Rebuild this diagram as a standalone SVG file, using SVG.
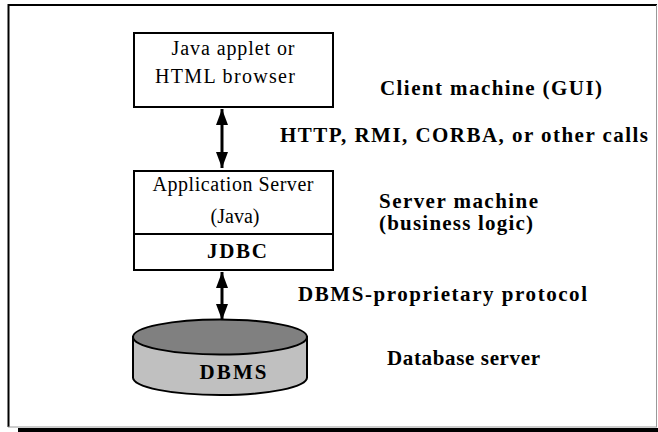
<svg xmlns="http://www.w3.org/2000/svg" width="658" height="432" viewBox="0 0 658 432">
<style>
.box{fill:#fff;stroke:#000;stroke-width:2}
.t{font-family:"Liberation Serif","Times New Roman",serif;font-size:20px;fill:#000}
.b{font-family:"Liberation Serif","Times New Roman",serif;font-size:21px;font-weight:bold;fill:#000}
.conn{stroke:#000;stroke-width:3}
</style>
<defs>
<marker id="ah" viewBox="0 0 16 12" refX="16" refY="6" markerWidth="16" markerHeight="12" markerUnits="userSpaceOnUse" orient="auto-start-reverse">
<path d="M0,0 L16,6 L0,12 Z" fill="#000"/>
</marker>
</defs>
<rect width="658" height="432" fill="#fff"/>
<g id="frame">
<line x1="8.5" y1="4" x2="8.5" y2="427" stroke="#000" stroke-width="2"/>
<line x1="8" y1="5" x2="657" y2="5" stroke="#000" stroke-width="2"/>
<line x1="656.5" y1="5" x2="656.5" y2="427" stroke="#999" stroke-width="1"/>
<line x1="8" y1="427" x2="657" y2="427" stroke="#999" stroke-width="1"/>
<rect x="18" y="428" width="640" height="4" fill="#000"/>
</g>
<g id="client">
<rect class="box" x="134" y="33" width="199" height="74"/>
<text class="t" x="233" y="55" text-anchor="middle" textLength="123">Java applet or</text>
<text class="t" x="225" y="83" text-anchor="middle" textLength="140">HTML browser</text>
</g>
<g id="server">
<rect class="box" x="134" y="171" width="199" height="99"/>
<line x1="134" y1="234" x2="333" y2="234" stroke="#000" stroke-width="2"/>
<text class="t" x="233" y="191" text-anchor="middle" textLength="161">Application Server</text>
<text class="t" x="235" y="223" text-anchor="middle">(Java)</text>
<text class="b" x="237" y="258" text-anchor="middle" textLength="60">JDBC</text>
</g>
<g id="dbms">
<path d="M133,337 L133,377.5 A87,17.5 0 0 0 307,377.5 L307,337 Z" fill="#c0c0c0" stroke="#000" stroke-width="2"/>
<ellipse cx="220" cy="337" rx="87" ry="17.5" fill="#808080" stroke="#000" stroke-width="2"/>
<text class="b" x="233" y="379" text-anchor="middle" textLength="67">DBMS</text>
</g>
<g id="labels">
<text class="b" x="380" y="95" textLength="222">Client machine (GUI)</text>
<text class="b" x="280" y="142" textLength="368">HTTP, RMI, CORBA, or other calls</text>
<text class="b" x="379" y="208" textLength="159">Server machine</text>
<text class="b" x="379" y="230" textLength="154">(business logic)</text>
<text class="b" x="298" y="301" textLength="289">DBMS-proprietary protocol</text>
<text class="b" x="387" y="365" textLength="153">Database server</text>
</g>
<g id="connectors">
<line class="conn" x1="222" y1="109" x2="222" y2="168" marker-start="url(#ah)" marker-end="url(#ah)"/>
<line class="conn" x1="222" y1="272" x2="222" y2="320" marker-start="url(#ah)" marker-end="url(#ah)"/>
</g>
</svg>
